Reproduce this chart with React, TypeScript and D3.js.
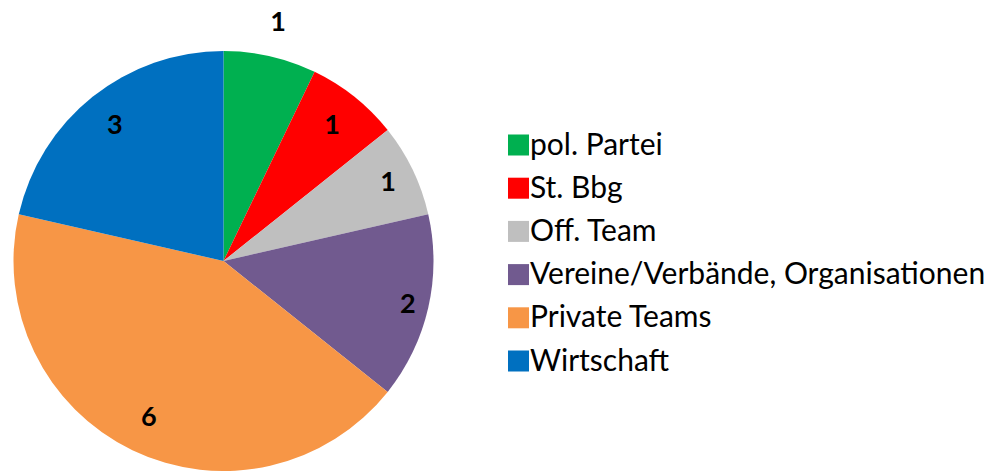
import React from "react";
import * as d3 from "d3";

const categories = ["pol. Partei", "St. Bbg", "Off. Team", "Vereine/Verbände, Organisationen", "Private Teams", "Wirtschaft"];
const values = [1, 1, 1, 2, 6, 3];
const colors = ["#00B050", "#FF0000", "#BFBFBF", "#715A8F", "#F79646", "#0070C0"];
const labelRadiusFactor = [1.17, 0.83, 0.87, 0.9, 0.82, 0.83];

export default function App() {
  const W = 986, H = 471;
  const cx = 223.5, cy = 261, R = 210;
  const pie = d3.pie<number>().value(d => d).sort(null);
  const arcs = pie(values);
  const arcGen = d3.arc<d3.PieArcDatum<number>>().innerRadius(0).outerRadius(R);
  const font = "Lato, 'Open Sans', sans-serif";
  const legendX = 508, legendY0 = 145, legendStep = 43.2, sq = 21;
  return (
    <svg width={W} height={H} style={{ position: "absolute", left: 0, top: 0 }}>
      <rect width={W} height={H} fill="#fff" />
      <g transform={`translate(${cx},${cy})`}>
        {arcs.map((a, i) => (
          <path key={i} d={arcGen(a) || ""} fill={colors[i]} />
        ))}
        {arcs.map((a, i) => {
          const mid = (a.startAngle + a.endAngle) / 2;
          const r = R * labelRadiusFactor[i];
          const x = Math.sin(mid) * r;
          const y = -Math.cos(mid) * r;
          return (
            <text key={i} x={x} y={y} dy="0.36em" textAnchor="middle" fontFamily={font} fontWeight="bold" fontSize={27} fill="#000">
              {values[i]}
            </text>
          );
        })}
      </g>
      {categories.map((c, i) => (
        <g key={c} transform={`translate(${legendX},${legendY0 + i * legendStep})`}>
          <rect x={0} y={-sq / 2} width={sq} height={sq} fill={colors[i]} />
          <text x={sq + 1} y={0} dy="0.32em" fontFamily={font} fontSize={30} fill="#000">{c}</text>
        </g>
      ))}
    </svg>
  );
}
